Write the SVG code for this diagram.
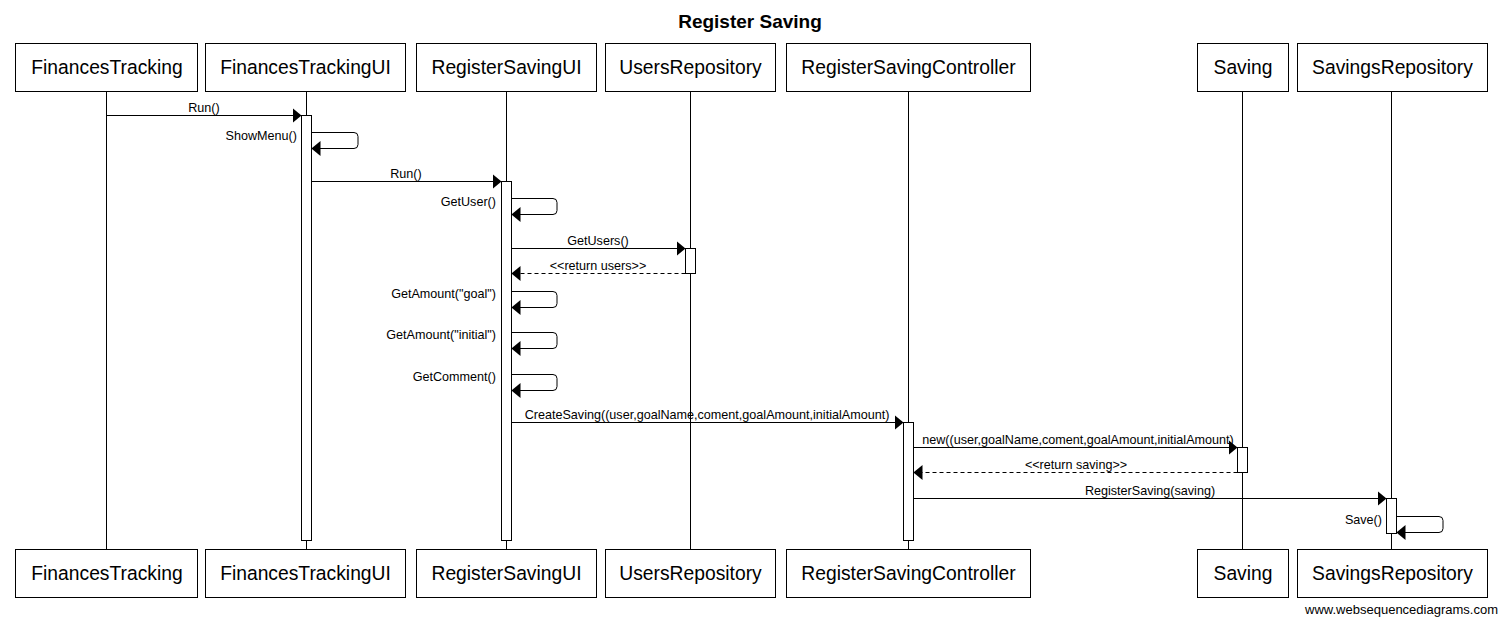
<svg xmlns="http://www.w3.org/2000/svg" width="1500" height="618" viewBox="0 0 1500 618">
<style>
.bg{fill:#fff}
.box{fill:#fff;stroke:#000;stroke-width:1}
.name{font-family:"Liberation Sans",Arial,sans-serif;font-size:19.3px;fill:#000;text-anchor:middle}
.title{font-family:"Liberation Sans",Arial,sans-serif;font-size:19px;font-weight:bold;fill:#000;text-anchor:middle}
.life{stroke:#000;stroke-width:1;fill:none}
.act{fill:#fff;stroke:#000;stroke-width:1}
.msg{stroke:#000;stroke-width:1;fill:none;marker-end:url(#ah)}
.ret{stroke:#000;stroke-width:1;fill:none;stroke-dasharray:4,3;marker-end:url(#ah)}
.lbl{font-family:"Liberation Sans",Arial,sans-serif;font-size:12.6px;fill:#000;text-anchor:middle}
.lblr{font-family:"Liberation Sans",Arial,sans-serif;font-size:12.6px;fill:#000;text-anchor:end}
.foot{font-family:"Liberation Sans",Arial,sans-serif;font-size:13px;fill:#000;text-anchor:end}
</style>
<defs>
<marker id="ah" viewBox="0 0 9 15" markerWidth="9" markerHeight="15" refX="9" refY="7.5" orient="auto" markerUnits="userSpaceOnUse">
<path d="M0,0 L9,7.5 L0,15 Z" fill="#000"/>
</marker>
</defs>
<rect class="bg" x="0" y="0" width="1500" height="618"/>
<text class="title" x="750" y="28">Register Saving</text>

<g id="lifelines">
<line class="life" x1="106.5" y1="91.5" x2="106.5" y2="549.5"/>
<line class="life" x1="306.5" y1="91.5" x2="306.5" y2="549.5"/>
<line class="life" x1="506.5" y1="91.5" x2="506.5" y2="549.5"/>
<line class="life" x1="690.5" y1="91.5" x2="690.5" y2="549.5"/>
<line class="life" x1="908.5" y1="91.5" x2="908.5" y2="549.5"/>
<line class="life" x1="1242.5" y1="91.5" x2="1242.5" y2="549.5"/>
<line class="life" x1="1391.5" y1="91.5" x2="1391.5" y2="549.5"/>
</g>

<g id="activations">
<rect class="act" x="301.5" y="115.5" width="10" height="425"/>
<rect class="act" x="501.5" y="181.5" width="10" height="359"/>
<rect class="act" x="685.5" y="248.5" width="10" height="25"/>
<rect class="act" x="903.5" y="422.5" width="10" height="118"/>
<rect class="act" x="1237.5" y="447.5" width="10" height="25"/>
<rect class="act" x="1386.5" y="498.5" width="10" height="35"/>
</g>

<g id="node-FinancesTracking">
<rect class="box" x="15.5" y="43.5" width="182" height="48"/>
<text class="name" x="107" y="74">FinancesTracking</text>
<rect class="box" x="15.5" y="549.5" width="182" height="48"/>
<text class="name" x="107" y="580">FinancesTracking</text>
</g>
<g id="node-FinancesTrackingUI">
<rect class="box" x="205.5" y="43.5" width="200" height="48"/>
<text class="name" x="305.5" y="74">FinancesTrackingUI</text>
<rect class="box" x="205.5" y="549.5" width="200" height="48"/>
<text class="name" x="305.5" y="580">FinancesTrackingUI</text>
</g>
<g id="node-RegisterSavingUI">
<rect class="box" x="416.5" y="43.5" width="180" height="48"/>
<text class="name" x="506.5" y="74">RegisterSavingUI</text>
<rect class="box" x="416.5" y="549.5" width="180" height="48"/>
<text class="name" x="506.5" y="580">RegisterSavingUI</text>
</g>
<g id="node-UsersRepository">
<rect class="box" x="605.5" y="43.5" width="170" height="48"/>
<text class="name" x="690.5" y="74">UsersRepository</text>
<rect class="box" x="605.5" y="549.5" width="170" height="48"/>
<text class="name" x="690.5" y="580">UsersRepository</text>
</g>
<g id="node-RegisterSavingController">
<rect class="box" x="786.5" y="43.5" width="244" height="48"/>
<text class="name" x="908.5" y="74">RegisterSavingController</text>
<rect class="box" x="786.5" y="549.5" width="244" height="48"/>
<text class="name" x="908.5" y="580">RegisterSavingController</text>
</g>
<g id="node-Saving">
<rect class="box" x="1197.5" y="43.5" width="91" height="48"/>
<text class="name" x="1243" y="74">Saving</text>
<rect class="box" x="1197.5" y="549.5" width="91" height="48"/>
<text class="name" x="1243" y="580">Saving</text>
</g>
<g id="node-SavingsRepository">
<rect class="box" x="1297.5" y="43.5" width="190" height="48"/>
<text class="name" x="1392.5" y="74">SavingsRepository</text>
<rect class="box" x="1297.5" y="549.5" width="190" height="48"/>
<text class="name" x="1392.5" y="580">SavingsRepository</text>
</g>

<g id="connectors">
<line class="msg" x1="106.5" y1="115.5" x2="301.5" y2="115.5"/>
<text class="lbl" x="204" y="112">Run()</text>

<path class="msg" d="M311.5,132.5 H354 Q358,132.5 358,136.5 V144.5 Q358,148.5 354,148.5 H311.5"/>
<text class="lblr" x="297" y="140">ShowMenu()</text>

<line class="msg" x1="311.5" y1="181.5" x2="501.5" y2="181.5"/>
<text class="lbl" x="406" y="178">Run()</text>

<path class="msg" d="M511.5,198.5 H553 Q557,198.5 557,202.5 V210.5 Q557,214.5 553,214.5 H511.5"/>
<text class="lblr" x="496" y="206">GetUser()</text>

<line class="msg" x1="511.5" y1="248.5" x2="685.5" y2="248.5"/>
<text class="lbl" x="598" y="245">GetUsers()</text>

<line class="ret" x1="685.5" y1="273.5" x2="511.5" y2="273.5"/>
<text class="lbl" x="598" y="270">&lt;&lt;return users&gt;&gt;</text>

<path class="msg" d="M511.5,291.5 H553 Q557,291.5 557,295.5 V303.5 Q557,307.5 553,307.5 H511.5"/>
<text class="lblr" x="496" y="298">GetAmount("goal")</text>

<path class="msg" d="M511.5,332.5 H553 Q557,332.5 557,336.5 V344.5 Q557,348.5 553,348.5 H511.5"/>
<text class="lblr" x="496" y="339">GetAmount("initial")</text>

<path class="msg" d="M511.5,374.5 H553 Q557,374.5 557,378.5 V386.5 Q557,390.5 553,390.5 H511.5"/>
<text class="lblr" x="496" y="381">GetComment()</text>

<line class="msg" x1="511.5" y1="422.5" x2="903.5" y2="422.5"/>
<text class="lbl" x="707" y="419">CreateSaving((user,goalName,coment,goalAmount,initialAmount)</text>

<line class="msg" x1="913.5" y1="447.5" x2="1237.5" y2="447.5"/>
<text class="lbl" x="1078" y="444">new((user,goalName,coment,goalAmount,initialAmount)</text>

<line class="ret" x1="1237.5" y1="472.5" x2="913.5" y2="472.5"/>
<text class="lbl" x="1076" y="469">&lt;&lt;return saving&gt;&gt;</text>

<line class="msg" x1="913.5" y1="498.5" x2="1386.5" y2="498.5"/>
<text class="lbl" x="1150" y="495">RegisterSaving(saving)</text>

<path class="msg" d="M1396.5,516.5 H1439 Q1443,516.5 1443,520.5 V528.5 Q1443,532.5 1439,532.5 H1396.5"/>
<text class="lblr" x="1382" y="524">Save()</text>
</g>

<text class="foot" x="1498" y="614">www.websequencediagrams.com</text>
</svg>
